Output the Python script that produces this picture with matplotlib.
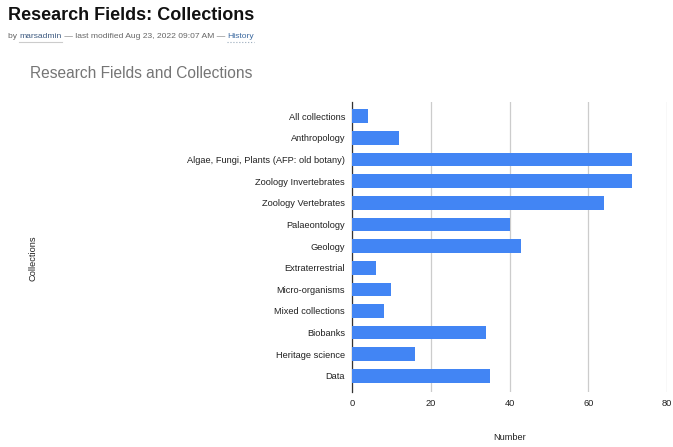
import matplotlib
matplotlib.use("Agg")
import matplotlib.pyplot as plt
import numpy as np

plt.rcParams["font.family"] = ["Liberation Sans", "DejaVu Sans"]

categories = [
    "All collections",
    "Anthropology",
    "Algae, Fungi, Plants (AFP: old botany)",
    "Zoology Invertebrates",
    "Zoology Vertebrates",
    "Palaeontology",
    "Geology",
    "Extraterrestrial",
    "Micro-organisms",
    "Mixed collections",
    "Biobanks",
    "Heritage science",
    "Data",
]
counts = [4, 12, 71, 71, 64, 40, 43, 6, 10, 8, 34, 16, 35]
x_ticks = [0, 20, 40, 60, 80]

W, H = 673, 447
fig = plt.figure(figsize=(W / 100, H / 100), dpi=100)

# plot area in pixel coords
left, right, top, bottom = 352, 667, 102, 392
ax = fig.add_axes([left / W, 1 - bottom / H, (right - left) / W, (bottom - top) / H])

y = np.arange(len(categories))
ax.barh(y, counts, height=0.63, color="#4285f4", zorder=3)
ax.set_ylim(len(categories) - 0.26, -0.65)
ax.set_xlim(0, 80)
ax.set_xticks(x_ticks)
ax.set_yticks(y)
ax.set_yticklabels(categories)
ax.tick_params(axis="both", length=0, labelsize=6.7, colors="#222222")
ax.tick_params(axis="x", pad=5)
ax.tick_params(axis="y", pad=5)
ax.xaxis.grid(True, color="#cccccc", linewidth=0.9, zorder=0)
for side in ["top", "right", "bottom"]:
    ax.spines[side].set_visible(False)
ax.spines["left"].set_color("#333333")
ax.spines["left"].set_linewidth(0.9)

# page header
fig.text(8 / W, 1 - 15 / H, "Research Fields: Collections", fontsize=13,
         fontweight="bold", color="#111111", va="center", ha="left")

renderer = fig.canvas.get_renderer()
pieces = [
    ("by ", "#666666", None),
    ("marsadmin", "#3d5a80", "solid"),
    (" \u2014 last modified Aug 23, 2022 09:07 AM \u2014 ", "#666666", None),
    ("History", "#3d6aa0", "dotted"),
]
xpos = 8
for txt, col, under in pieces:
    t = fig.text(xpos / W, 1 - 37 / H, txt, fontsize=6.1, color=col,
                 va="center", ha="left")
    bb = t.get_window_extent(renderer)
    if under:
        uy = 1 - 42 / H
        fig.add_artist(plt.Line2D([xpos / W, (xpos + bb.width) / W], [uy, uy],
                                  color="#9ab" if under == "dotted" else "#cccccc",
                                  linewidth=0.8, linestyle=under,
                                  transform=fig.transFigure))
    xpos += bb.width

fig.text(30 / W, 1 - 73 / H, "Research Fields and Collections", fontsize=11.2,
         color="#757575", va="center", ha="left")

fig.text(33 / W, 1 - 258 / H, "Collections", fontsize=6.7, color="#222222",
         rotation=90, va="center", ha="center")
fig.text(510 / W, 1 - 437 / H, "Number", fontsize=6.7, color="#222222",
         va="center", ha="center")

fig.savefig("out.png", dpi=100)
